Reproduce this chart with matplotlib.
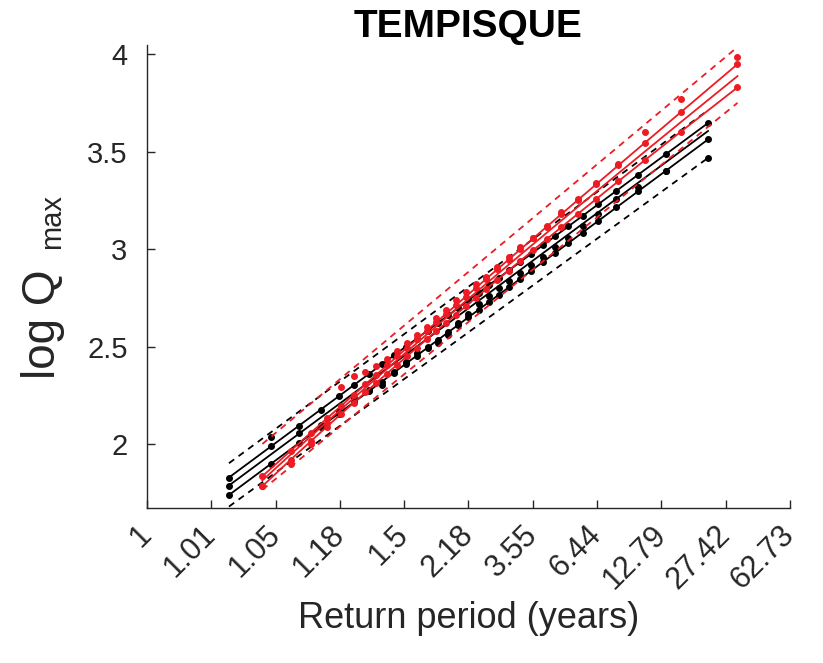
import matplotlib
matplotlib.use("Agg")
import matplotlib.pyplot as plt
import numpy as np
from statistics import NormalDist

# ---- data -------------------------------------------------------------
n_years = 31
plot_skew_black = 0.0     # skew used for the frequency-factor axis positions
plot_skew_red = 0.6

# observed annual maxima, log10(Q), sorted ascending
obs_black = [1.788, 2.036, 2.06, 2.10, 2.17, 2.24, 2.28, 2.305, 2.37, 2.42,
             2.47, 2.50, 2.518, 2.56, 2.62, 2.67, 2.72, 2.76, 2.80, 2.84,
             2.88, 2.92, 2.96, 3.01, 3.06, 3.12, 3.18, 3.26, 3.32, 3.40, 3.467]
obs_red = [1.788, 1.90, 2.00, 2.11, 2.292, 2.351, 2.37, 2.40, 2.44, 2.48,
           2.52, 2.56, 2.60, 2.65, 2.69, 2.74, 2.78, 2.82, 2.86, 2.91,
           2.96, 3.01, 3.06, 3.12, 3.19, 3.26, 3.34, 3.44, 3.603, 3.77, 3.988]

# fitted distributions (upper, central, lower): mean, std and skew of log Q
fit_mean_black = [2.739, 2.698, 2.652]
fit_std_black = [0.488, 0.488, 0.4895]
fit_skew_black = [0.0, 0.0, 0.0]
fit_mean_red = [2.765, 2.7375, 2.7066]
fit_std_red = [0.5712, 0.5598, 0.5515]
fit_skew_red = [0.55, 0.50, 0.45]

# confidence bounds (upper, lower)
ci_mean_black = [2.8085, 2.575]
ci_std_black = [0.486, 0.480]
ci_mean_red = [2.885, 2.628]
ci_std_red = [0.551, 0.537]

tick_pos = [-2.5, -2.0, -1.5, -1.0, -0.5, 0.0, 0.5, 1.0, 1.5, 2.0, 2.5]
tick_labels = ["1", "1.01", "1.05", "1.18", "1.5", "2.18", "3.55", "6.44",
               "12.79", "27.42", "62.73"]


def std_normal_quantiles(n):
    """Standard normal quantiles of the Weibull plotting positions i/(n+1)."""
    nd = NormalDist()
    return np.array([nd.inv_cdf(i / (n + 1)) for i in range(1, n + 1)])


def freq_factor(z, g):
    """Pearson III frequency factor (Wilson-Hilferty approximation)."""
    if g == 0:
        return z
    return (2.0 / g) * ((1 + g * z / 6 - g * g / 36) ** 3 - 1)


plt.rcParams['font.family'] = ['Liberation Sans', 'DejaVu Sans']
TXT = '#262626'
RED = '#ec1c24'
MS = 4.0
LW = 1.3
DASH = (0, (3.6, 3.0))

fig = plt.figure(figsize=(8.23, 6.63), dpi=100)
ax = fig.add_axes([0.1786, 0.2333, 0.7813, 0.6988])

series = [
    ('black', plot_skew_black, obs_black, fit_mean_black, fit_std_black,
     fit_skew_black, ci_mean_black, ci_std_black),
    (RED, plot_skew_red, obs_red, fit_mean_red, fit_std_red,
     fit_skew_red, ci_mean_red, ci_std_red),
]

z = std_normal_quantiles(n_years)
for color, g_plot, obs, fm, fs, fg, cm, cs in series:
    x = freq_factor(z, g_plot)
    # confidence bounds
    for m, s in zip(cm, cs):
        ax.plot(x, m + s * x, ls=DASH, color=color, lw=LW)
    # fitted quantiles at the plotting positions
    for j, (m, s, g) in enumerate(zip(fm, fs, fg)):
        yq = m + s * freq_factor(z, g)
        if j == 1:
            ax.plot(x, yq, '-', color=color, lw=LW)
        else:
            ax.plot(x, yq, '-', color=color, lw=LW,
                    marker='o', ms=MS, mec=color, mfc=color)
    # observations
    ax.plot(x, obs, 'o', color=color, ms=MS, ls='none')

ax.set_xlim(-2.5, 2.5)
ax.set_ylim(1.672, 4.048)
ax.set_xticks(tick_pos)
ax.set_xticklabels(tick_labels, rotation=45, ha='right', va='center',
                   rotation_mode='anchor')
ax.set_yticks([2, 2.5, 3, 3.5, 4])
ax.set_yticklabels(["2", "2.5", "3", "3.5", "4"])
ax.tick_params(direction='in', length=6, width=1, labelsize=21,
               colors=TXT)
ax.tick_params(axis='y', pad=14)
ax.tick_params(axis='x', pad=16, labelsize=22)
for side in ('top', 'right'):
    ax.spines[side].set_visible(False)
for side in ('left', 'bottom'):
    ax.spines[side].set_color(TXT)
    ax.spines[side].set_linewidth(1)

ax.set_xlabel("Return period (years)", fontsize=26, color=TXT, labelpad=4)

# y label: "log Q" with a "max" subscript
fig.text(0.052, 0.428, "log Q", rotation=90, fontsize=33, color=TXT,
         ha='center', va='bottom')
fig.text(0.063, 0.624, "max", rotation=90, fontsize=21, color=TXT,
         ha='center', va='bottom')

ax.set_title("TEMPISQUE", fontsize=28, fontweight='bold', pad=6)

fig.savefig("out.png", dpi=100)
